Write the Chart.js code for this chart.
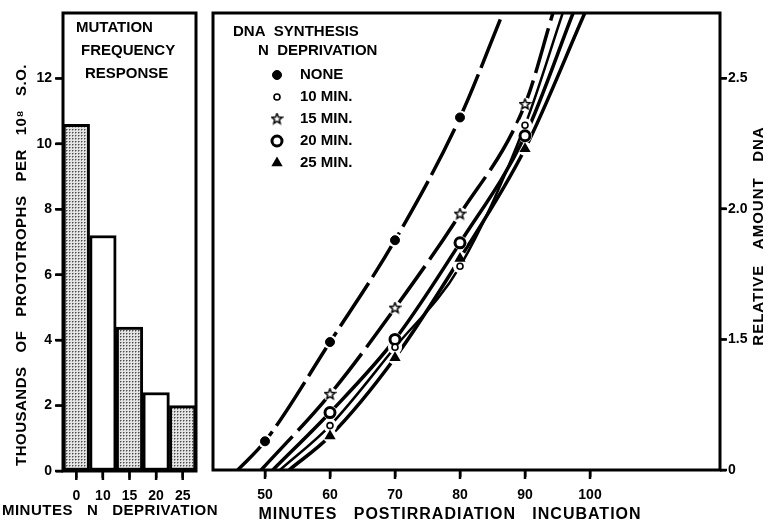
<!DOCTYPE html>
<html>
<head>
<meta charset="utf-8">
<script src="https://cdn.jsdelivr.net/npm/chart.js@4.4.1/dist/chart.umd.min.js"></script>
<style>
  body { margin: 0; background: #fff; }
  #wrap { position: relative; width: 774px; height: 523px; }
  canvas { position: absolute; top: 0; }
  #barChart { left: 0; }
  #dnaChart { left: 205px; }
</style>
</head>
<body>
<div id="wrap">
  <canvas id="barChart" width="222" height="523"></canvas>
  <canvas id="dnaChart" width="569" height="523"></canvas>
</div>
<script>
// left panel: mutation frequency response
const deprivationLabels = ['0', '10', '15', '20', '25'];
const prototrophs = [10.6, 7.2, 4.4, 2.4, 2.0];
const mutationTicks = [0, 2, 4, 6, 8, 10, 12];

// right panel: DNA synthesis, marker readings
const noneMinutes = [50, 60, 70, 80];
const noneDNA = [1.11, 1.49, 1.88, 2.35];
const laterMinutes = [60, 70, 80, 90];
const min10DNA = [1.17, 1.47, 1.78, 2.32];
const min15DNA = [1.29, 1.62, 1.98, 2.40];
const min20DNA = [1.22, 1.50, 1.87, 2.28];
const min25DNA = [1.13, 1.43, 1.81, 2.23];

// where each drawn curve leaves the bottom axis / the top of the frame (minutes)
// order: NONE, 10, 15, 20, 25 MIN.
const curveStart = [45.8, 52.3, 49.4, 51.2, 53.7];
const curveEnd = [86.6, 95.8, 94.3, 97.4, 99.2];

const timeTicks = [50, 60, 70, 80, 90, 100];
const dnaTicks = [1.0, 1.5, 2.0, 2.5];
const dnaTickLabels = ['0', '1.5', '2.0', '2.5'];
const DNA_MIN = 1.0, DNA_MAX = 2.75;

const FONT = '"Liberation Sans", Arial, sans-serif';
const tickFont = { family: FONT, size: 14, weight: 'bold' };

function stipple(ctx) {
  const c = document.createElement('canvas');
  c.width = 3; c.height = 3;
  const g = c.getContext('2d');
  g.fillStyle = '#e4e4e4';
  g.fillRect(0, 0, 3, 3);
  g.fillStyle = '#4a4a4a';
  g.fillRect(0, 0, 1, 1);
  g.fillStyle = '#9a9a9a';
  g.fillRect(1, 0, 1, 1);
  g.fillRect(0, 1, 1, 1);
  return ctx.createPattern(c, 'repeat');
}

function starMark(size) {
  const c = document.createElement('canvas');
  c.width = c.height = size;
  const g = c.getContext('2d');
  const cx = size / 2, r = size / 2 - 1;
  g.beginPath();
  for (let i = 0; i < 10; i++) {
    const rr = i % 2 ? r * 0.45 : r;
    const a = -Math.PI / 2 + i * Math.PI / 5;
    g.lineTo(cx + rr * Math.cos(a), cx + rr * Math.sin(a));
  }
  g.closePath();
  g.fillStyle = '#fff';
  g.fill();
  g.lineWidth = 1.5;
  g.strokeStyle = '#000';
  g.stroke();
  return c;
}

// thick box round the plot area, plus outward tick marks at each scale tick
const framePlugin = {
  id: 'frame',
  afterDatasetsDraw(chart) {
    const { ctx, chartArea: a } = chart;
    ctx.save();
    ctx.strokeStyle = '#000';
    ctx.lineWidth = 2.5;
    Object.values(chart.scales).forEach(s => {
      s.ticks.forEach((t, i) => {
        const p = s.getPixelForTick(i);
        ctx.beginPath();
        if (s.isHorizontal()) {
          ctx.moveTo(p, a.bottom);
          ctx.lineTo(p, a.bottom + 9);
        } else if (s.position === 'right') {
          ctx.moveTo(a.right, p);
          ctx.lineTo(a.right + 7, p);
        } else {
          ctx.moveTo(a.left, p);
          ctx.lineTo(a.left - 8, p);
        }
        ctx.stroke();
      });
    });
    ctx.lineWidth = 3;
    ctx.strokeRect(a.left, a.top, a.right - a.left, a.bottom - a.top);
    ctx.restore();
  }
};

const textPlugin = {
  id: 'panelText',
  afterDraw(chart, args, opts) {
    const ctx = chart.ctx;
    (opts.items || []).forEach(t => {
      ctx.save();
      ctx.font = 'bold ' + (t.size || 15) + 'px ' + FONT;
      ctx.letterSpacing = (t.spacing || 0) + 'px';
      ctx.fillStyle = '#000';
      ctx.textAlign = t.align || 'left';
      ctx.textBaseline = 'middle';
      ctx.translate(t.x, t.y);
      if (t.rotate) ctx.rotate(t.rotate);
      ctx.fillText(t.text, 0, 0);
      ctx.restore();
    });
  }
};

// legend drawn inside the DNA panel from the marker datasets
const markerLegend = {
  id: 'markerLegend',
  afterDraw(chart, args, opts) {
    const ctx = chart.ctx;
    const sets = chart.data.datasets.filter(d => d.legendText);
    sets.forEach((d, i) => {
      const x = opts.x, y = opts.y + i * opts.step;
      ctx.save();
      ctx.fillStyle = d.pointBackgroundColor;
      ctx.strokeStyle = d.pointBorderColor;
      ctx.lineWidth = d.pointBorderWidth;
      const r = d.pointRadius;
      if (d.pointStyle instanceof HTMLCanvasElement) {
        ctx.drawImage(d.pointStyle, x - d.pointStyle.width / 2, y - d.pointStyle.height / 2);
      } else if (d.pointStyle === 'triangle') {
        ctx.beginPath();
        ctx.moveTo(x, y - r);
        ctx.lineTo(x + r * 0.87, y + r * 0.5);
        ctx.lineTo(x - r * 0.87, y + r * 0.5);
        ctx.closePath();
        ctx.fill();
      } else {
        ctx.beginPath();
        ctx.arc(x, y, r, 0, Math.PI * 2);
        ctx.fill();
        if (d.pointBorderWidth) ctx.stroke();
      }
      ctx.font = 'bold 15px ' + FONT;
      ctx.fillStyle = '#000';
      ctx.textBaseline = 'middle';
      ctx.fillText(d.legendText, opts.textX, y);
      ctx.restore();
    });
  }
};

const tickGrid = { display: true, drawOnChartArea: false, drawTicks: true, tickLength: 7, tickWidth: 2, tickColor: '#000' };

// ---------- left panel ----------
const barCanvas = document.getElementById('barChart');
const dots = stipple(barCanvas.getContext('2d'));

new Chart(barCanvas, {
  type: 'bar',
  data: {
    labels: deprivationLabels,
    datasets: [{
      data: prototrophs,
      backgroundColor: [dots, '#fff', dots, '#fff', dots],
      borderColor: '#000',
      borderWidth: 3,
      borderSkipped: false,
      categoryPercentage: 1,
      barPercentage: 1
    }]
  },
  options: {
    responsive: false,
    animation: false,
    events: [],
    layout: { padding: { left: 0, top: 13, right: 26, bottom: 0 } },
    scales: {
      x: {
        grid: { ...tickGrid, offset: false },
        border: { display: false },
        ticks: { color: '#000', font: tickFont, padding: 10, maxRotation: 0 },
        afterFit: s => { s.height = 52; }
      },
      y: {
        min: 0,
        max: 14,
        grid: tickGrid,
        border: { display: false },
        ticks: { color: '#000', font: tickFont, padding: 4 },
        afterBuildTicks: s => { s.ticks = mutationTicks.map(v => ({ value: v })); },
        afterFit: s => { s.width = 63; }
      }
    },
    plugins: {
      legend: { display: false },
      tooltip: { enabled: false },
      panelText: {
        items: [
          { text: 'MUTATION', x: 76, y: 28 },
          { text: 'FREQUENCY', x: 81, y: 51 },
          { text: 'RESPONSE', x: 85, y: 74 },
          { text: 'THOUSANDS   OF   PROTOTROPHS   PER   10\u2078   S.O.', x: 22, y: 265, align: 'center', spacing: 0.5, rotate: -Math.PI / 2 },
          { text: 'MINUTES   N   DEPRIVATION', x: 110, y: 511, align: 'center', spacing: 0.5 }
        ]
      }
    }
  },
  plugins: [framePlugin, textPlugin]
});

// ---------- right panel ----------
const star = starMark(13);

function pts(xs, ys) {
  return xs.map((x, i) => ({ x: x, y: ys[i] }));
}

const series = [
  { name: 'NONE', xs: noneMinutes, ys: noneDNA, style: 'circle', radius: 4.5, bg: '#000', bw: 1, dash: [52, 7] },
  { name: '10 MIN.', xs: laterMinutes, ys: min10DNA, style: 'circle', radius: 3, bg: '#fff', bw: 1.6, dash: [] },
  { name: '15 MIN.', xs: laterMinutes, ys: min15DNA, style: star, radius: 6, bg: '#fff', bw: 0, dash: [46, 8] },
  { name: '20 MIN.', xs: laterMinutes, ys: min20DNA, style: 'circle', radius: 5, bg: '#fff', bw: 3, dash: [] },
  { name: '25 MIN.', xs: laterMinutes, ys: min25DNA, style: 'triangle', radius: 6.5, bg: '#000', bw: 0, dash: [] }
];

const markerSets = series.map(s => ({
  type: 'scatter',
  legendText: s.name,
  data: pts(s.xs, s.ys),
  pointStyle: s.style,
  pointRadius: s.radius,
  pointBackgroundColor: s.bg,
  pointBorderColor: '#000',
  pointBorderWidth: s.bw,
  order: 0
}));

const curveSets = series.map((s, k) => {
  const data = [{ x: curveStart[k], y: DNA_MIN }].concat(pts(s.xs, s.ys), [{ x: curveEnd[k], y: DNA_MAX }]);
  return {
    type: 'line',
    data: data,
    borderColor: '#000',
    borderWidth: k === 1 ? 2.5 : 3.5,
    borderDash: s.dash,
    cubicInterpolationMode: 'monotone',
    fill: false,
    pointRadius: data.map((p, i) => (i === 0 || i === data.length - 1) ? 0 : 7),
    pointBackgroundColor: '#fff',
    pointBorderWidth: 0,
    order: 1
  };
});

new Chart(document.getElementById('dnaChart'), {
  type: 'scatter',
  data: { datasets: markerSets.concat(curveSets) },
  options: {
    responsive: false,
    animation: false,
    events: [],
    layout: { padding: { left: 8, top: 13, right: 0, bottom: 0 } },
    scales: {
      x: {
        type: 'linear',
        min: 42,
        max: 120,
        grid: tickGrid,
        border: { display: false },
        ticks: { color: '#000', font: tickFont, padding: 10 },
        afterBuildTicks: s => { s.ticks = timeTicks.map(v => ({ value: v })); },
        afterFit: s => { s.height = 53; }
      },
      y: {
        type: 'linear',
        position: 'right',
        min: DNA_MIN,
        max: DNA_MAX,
        grid: { ...tickGrid, tickLength: 6 },
        border: { display: false },
        ticks: { color: '#000', font: tickFont, padding: 2, callback: (v, i) => dnaTickLabels[i] },
        afterBuildTicks: s => { s.ticks = dnaTicks.map(v => ({ value: v })); },
        afterFit: s => { s.width = 54; }
      }
    },
    plugins: {
      legend: { display: false },
      tooltip: { enabled: false },
      markerLegend: { x: 72, y: 75, step: 22, textX: 95 },
      panelText: {
        items: [
          { text: 'DNA  SYNTHESIS', x: 28, y: 32 },
          { text: 'N  DEPRIVATION', x: 53, y: 51 },
          { text: 'MINUTES   POSTIRRADIATION   INCUBATION', x: 245, y: 515, align: 'center', size: 16, spacing: 1 },
          { text: 'RELATIVE   AMOUNT   DNA', x: 554, y: 236, align: 'center', size: 15, spacing: 1, rotate: -Math.PI / 2 }
        ]
      }
    }
  },
  plugins: [framePlugin, textPlugin, markerLegend]
});
</script>
</body>
</html>
